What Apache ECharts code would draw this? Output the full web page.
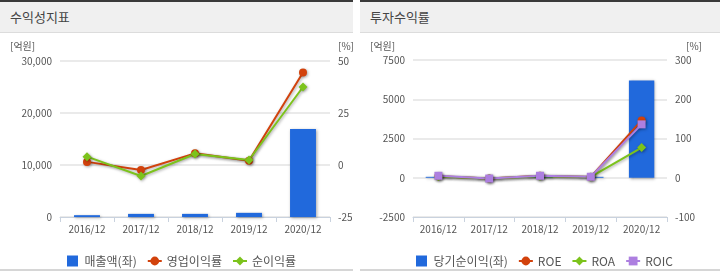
<!DOCTYPE html>
<html><head><meta charset="utf-8">
<script src="https://cdn.jsdelivr.net/npm/echarts@6/dist/echarts.min.js"></script>
<style>
html,body{margin:0;padding:0;background:#fff;}
#wrap{position:relative;width:720px;height:274px;overflow:hidden;font-family:"Noto Sans CJK KR","Noto Sans",sans-serif;}
.panel{position:absolute;top:0;height:271px;border-top:2px solid #3a3a3a;border-bottom:2px solid #d6d6d6;box-sizing:border-box;}
.hdr{height:30px;background:#f0f0f0;border-bottom:1px solid #dcdcdc;font-size:13px;color:#444;line-height:30px;padding-left:10px;}
#chart{position:absolute;left:0;top:0;width:720px;height:274px;}
</style></head>
<body><div id="wrap">
<div class="panel" style="left:0;width:353px;"><div class="hdr">수익성지표</div></div>
<div class="panel" style="left:360px;width:360px;"><div class="hdr">투자수익률</div></div>
<div id="chart"></div>
</div>
<script>
const categories = ['2016/12','2017/12','2018/12','2019/12','2020/12'];
const sales = [350, 600, 600, 800, 16900];
const opMargin = [1.5, -2.4, 5.6, 2.0, 44.5];
const netMargin = [4.0, -5.3, 5.3, 2.4, 37.5];
const netIncome = [60, -80, 90, 60, 6200];
const roe = [4, -2, 5, 2, 146];
const roa = [3, -2, 4, 2, 77];
const roic = [5, -2, 5, 2.5, 136];
const leftTicks = {min:0, max:30000, interval:10000};
const leftPct = {min:-25, max:50, interval:25};
const rightTicks = {min:-2500, max:7500, interval:2500};
const rightPct = {min:-100, max:300, interval:100};

const BLUE='#2169dc', RED='#d2420c', GREEN='#7cc31c', PURPLE='#ad7fe0';
const font='"Noto Sans CJK KR","Noto Sans",sans-serif';
const axLbl={fontSize:10,color:'#555',fontFamily:font};
const shadow={shadowColor:'rgba(0,0,0,0.35)',shadowBlur:3,shadowOffsetX:1,shadowOffsetY:1};
const SQ='path://M0,0h10v10h-10z';

function xAx(gi){return {type:'category',gridIndex:gi,data:categories,
  axisLine:{onZero:false,lineStyle:{color:'#c9d2de',width:1}},
  axisTick:{show:true,length:5,lineStyle:{color:'#c9d2de'}},
  axisLabel:Object.assign({margin:7},axLbl)};}
function yAx(gi,t,pos,split,fmt){return {type:'value',gridIndex:gi,position:pos,min:t.min,max:t.max,interval:t.interval,
  axisLine:{show:false},axisTick:{show:false},
  splitLine:{show:split,lineStyle:{color:'#e3e3e3',width:1.5}},
  axisLabel:Object.assign({margin:8,formatter:fmt},axLbl)};}
const comma=v=>v.toLocaleString('en-US');
const plain=v=>String(v);

function line(name,data,xi,yi,color,sym){return {name,type:'line',data,xAxisIndex:xi,yAxisIndex:yi,
  symbol:sym,symbolSize:sym==='diamond'?9:8,color,
  lineStyle:Object.assign({width:2,color},shadow),itemStyle:Object.assign({color},shadow),z:3};}

const legText={fontSize:12,color:'#555',fontFamily:font};
const chart=echarts.init(document.getElementById('chart'));
chart.setOption({
  animation:false,
  textStyle:{fontFamily:font},
  grid:[{left:60,right:390,top:61,bottom:57},{left:413,right:53,top:60,bottom:57}],
  xAxis:[xAx(0),xAx(1)],
  yAxis:[yAx(0,leftTicks,'left',true,comma),yAx(0,leftPct,'right',false,plain),
         yAx(1,rightTicks,'left',true,plain),yAx(1,rightPct,'right',false,plain)],
  legend:[
    {data:[{name:'매출액(좌)',icon:SQ},'영업이익률','순이익률'],left:62,top:250,itemGap:10,itemWidth:14,itemHeight:11,
     textStyle:legText},
    {data:[{name:'당기순이익(좌)',icon:SQ},'ROE','ROA','ROIC'],left:411,top:250,itemGap:10,itemWidth:14,itemHeight:11,
     textStyle:legText}
  ],
  graphic:[
    {type:'text',left:10,top:41,style:{text:'[억원]',fontSize:10,fill:'#555',fontFamily:font}},
    {type:'text',left:338,top:41,style:{text:'[%]',fontSize:10,fill:'#555',fontFamily:font}},
    {type:'text',left:370,top:41,style:{text:'[억원]',fontSize:10,fill:'#555',fontFamily:font}},
    {type:'text',left:686,top:41,style:{text:'[%]',fontSize:10,fill:'#555',fontFamily:font}}
  ],
  series:[
    {name:'매출액(좌)',type:'bar',data:sales,xAxisIndex:0,yAxisIndex:0,barWidth:'48%',
     itemStyle:Object.assign({color:BLUE},shadow)},
    line('영업이익률',opMargin,0,1,RED,'circle'),
    line('순이익률',netMargin,0,1,GREEN,'diamond'),
    {name:'당기순이익(좌)',type:'bar',data:netIncome,xAxisIndex:1,yAxisIndex:2,barWidth:'50%',
     itemStyle:Object.assign({color:BLUE},shadow)},
    line('ROE',roe,1,3,RED,'circle'),
    line('ROA',roa,1,3,GREEN,'diamond'),
    line('ROIC',roic,1,3,PURPLE,'rect')
  ]
});
</script></body></html>
